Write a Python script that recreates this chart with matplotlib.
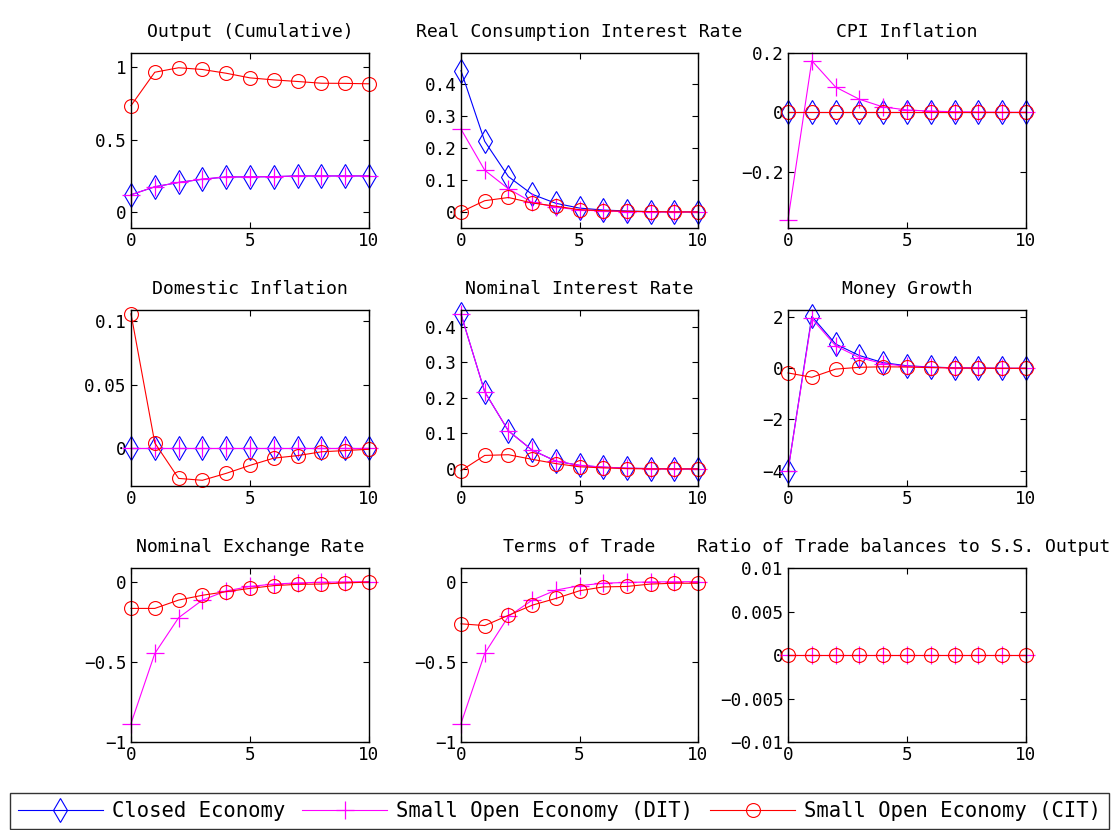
import numpy as np
import matplotlib
matplotlib.use("Agg")
import matplotlib.pyplot as plt
from matplotlib.ticker import FuncFormatter
from matplotlib.lines import Line2D

periods = list(range(11))

titles = ["Output (Cumulative)", "Real Consumption Interest Rate", "CPI Inflation",
          "Domestic Inflation", "Nominal Interest Rate", "Money Growth",
          "Nominal Exchange Rate", "Terms of Trade", "Ratio of Trade balances to S.S. Output"]

series_names = ["Closed Economy", "Small Open Economy (DIT)", "Small Open Economy (CIT)"]

# Closed economy
closed_output = [0.12, 0.175, 0.205, 0.227, 0.243, 0.243, 0.245, 0.25, 0.25, 0.25, 0.25]
closed_realrate = [0.44, 0.22, 0.11, 0.055, 0.027, 0.012, 0.006, 0.003, 0.001, 0.0, 0.0]
closed_cpi = [0.0] * 11
closed_dominf = [0.0] * 11
closed_nomrate = [0.435, 0.217, 0.107, 0.053, 0.022, 0.01, 0.005, 0.002, 0.001, 0.0, 0.0]
closed_money = [-4.0, 2.03, 0.95, 0.5, 0.22, 0.1, 0.05, 0.02, 0.01, 0.0, 0.0]

# Small open economy (DIT)
dit_output = [0.12, 0.175, 0.205, 0.228, 0.243, 0.244, 0.245, 0.25, 0.25, 0.25, 0.25]
dit_realrate = [0.258, 0.13, 0.072, 0.03, 0.015, 0.006, 0.003, 0.001, 0.0, 0.0, 0.0]
dit_cpi = [-0.362, 0.174, 0.085, 0.044, 0.018, 0.008, 0.004, 0.002, 0.001, 0.0, 0.0]
dit_dominf = [0.0] * 11
dit_nomrate = [0.435, 0.217, 0.107, 0.053, 0.022, 0.01, 0.005, 0.002, 0.001, 0.0, 0.0]
dit_money = [-4.0, 1.95, 0.88, 0.42, 0.18, 0.08, 0.04, 0.02, 0.01, 0.0, 0.0]
dit_exrate = [-0.885, -0.448, -0.225, -0.115, -0.058, -0.03, -0.015, -0.008, -0.004, -0.002, 0.0]
dit_tot = [-0.885, -0.448, -0.217, -0.116, -0.053, -0.025, -0.01, -0.005, -0.002, -0.001, 0.0]
dit_tb = [0.0] * 11

# Small open economy (CIT)
cit_output = [0.736, 0.967, 0.998, 0.986, 0.96, 0.928, 0.914, 0.903, 0.891, 0.89, 0.887]
cit_realrate = [0.0, 0.035, 0.045, 0.028, 0.018, 0.007, 0.004, 0.002, 0.001, 0.0, 0.0]
cit_cpi = [0.0] * 11
cit_dominf = [0.106, 0.004, -0.024, -0.0255, -0.020, -0.0137, -0.008, -0.006, -0.003, -0.002, -0.001]
cit_nomrate = [-0.005, 0.038, 0.04, 0.027, 0.015, 0.006, 0.003, 0.001, 0.0, 0.0, 0.0]
cit_money = [-0.18, -0.35, -0.03, 0.04, 0.06, 0.05, 0.03, 0.01, 0.005, 0.0, 0.0]
cit_exrate = [-0.167, -0.167, -0.115, -0.085, -0.0625, -0.042, -0.025, -0.017, -0.015, -0.008, -0.003]
cit_tot = [-0.263, -0.274, -0.21, -0.147, -0.105, -0.057, -0.033, -0.03, -0.015, -0.01, -0.01]
cit_tb = [0.0] * 11

closed_all = [closed_output, closed_realrate, closed_cpi, closed_dominf, closed_nomrate,
              closed_money, None, None, None]
dit_all = [dit_output, dit_realrate, dit_cpi, dit_dominf, dit_nomrate, dit_money,
           dit_exrate, dit_tot, dit_tb]
cit_all = [cit_output, cit_realrate, cit_cpi, cit_dominf, cit_nomrate, cit_money,
           cit_exrate, cit_tot, cit_tb]

ylims = [(-0.11, 1.1), (-0.05, 0.495), (-0.39, 0.2), (-0.03, 0.109), (-0.048, 0.447),
         (-4.6, 2.28), (-1.0, 0.085), (-1.0, 0.085), (-0.01, 0.01)]
yticks = [[0, 0.5, 1], [0, 0.1, 0.2, 0.3, 0.4], [-0.2, 0, 0.2], [0, 0.05, 0.1],
          [0, 0.1, 0.2, 0.3, 0.4], [-4, -2, 0, 2], [-1, -0.5, 0], [-1, -0.5, 0],
          [-0.01, -0.005, 0, 0.005, 0.01]]

W, H = 1117, 830
plt.rcParams['font.family'] = ['DejaVu Sans Mono', 'DejaVu Sans']
fig = plt.figure(figsize=(W / 100, H / 100), dpi=100)

col_left = [131, 461, 788]
col_w = [238, 237, 238]
row_top = [53, 310, 568]
row_bot = [228, 486, 742]

fmt = FuncFormatter(lambda v, p: ("%g" % v).replace("-", "\u2212"))

FS_TICK = 12.7
FS_TITLE = 13.1
FS_LEG = 14.8
style_closed = dict(color=(0, 0, 1), marker='d', markersize=12.5, markerfacecolor='none',
                    markeredgewidth=0.8, linewidth=0.8, clip_on=False)
style_dit = dict(color=(1, 0, 1), marker='+', markersize=13, markeredgewidth=0.9,
                 linewidth=0.8, clip_on=False)
style_cit = dict(color=(1, 0, 0), marker='o', markersize=10, markerfacecolor='none',
                 markeredgewidth=0.8, linewidth=0.8, clip_on=False)

for i in range(9):
    r, c = divmod(i, 3)
    l = col_left[c] / W
    b = (H - row_bot[r]) / H
    w = col_w[c] / W
    h = (row_bot[r] - row_top[r]) / H
    ax = fig.add_axes([l, b, w, h])
    if closed_all[i] is not None:
        ax.plot(periods, closed_all[i], **style_closed)
    ax.plot(periods, dit_all[i], **style_dit)
    ax.plot(periods, cit_all[i], **style_cit)
    ax.set_xlim(0, 10)
    ax.set_ylim(*ylims[i])
    ax.set_xticks([0, 5, 10])
    ax.set_yticks(yticks[i])
    ax.yaxis.set_major_formatter(fmt)
    ax.tick_params(direction='in', length=4, width=0.8, top=True, right=True,
                   labelsize=FS_TICK, pad=3)
    for s in ax.spines.values():
        s.set_linewidth(1.0)
    t = ax.set_title(titles[i], fontsize=FS_TITLE, pad=11.5)
    if i == 8:
        t.set_x(0.485)

handles = [Line2D([], [], **style_closed), Line2D([], [], **style_dit),
           Line2D([], [], **style_cit)]
leg = fig.legend(handles, series_names, loc='lower left', ncol=3,
                 bbox_to_anchor=(10 / W, 1 / H), fontsize=FS_LEG,
                 frameon=True, fancybox=False, handlelength=4.1, handletextpad=0.45,
                 columnspacing=0.85, borderaxespad=0.0, borderpad=0.4)
leg.get_frame().set_edgecolor('black')
leg.get_frame().set_linewidth(1.0)

fig.savefig("out.png", dpi=100)
